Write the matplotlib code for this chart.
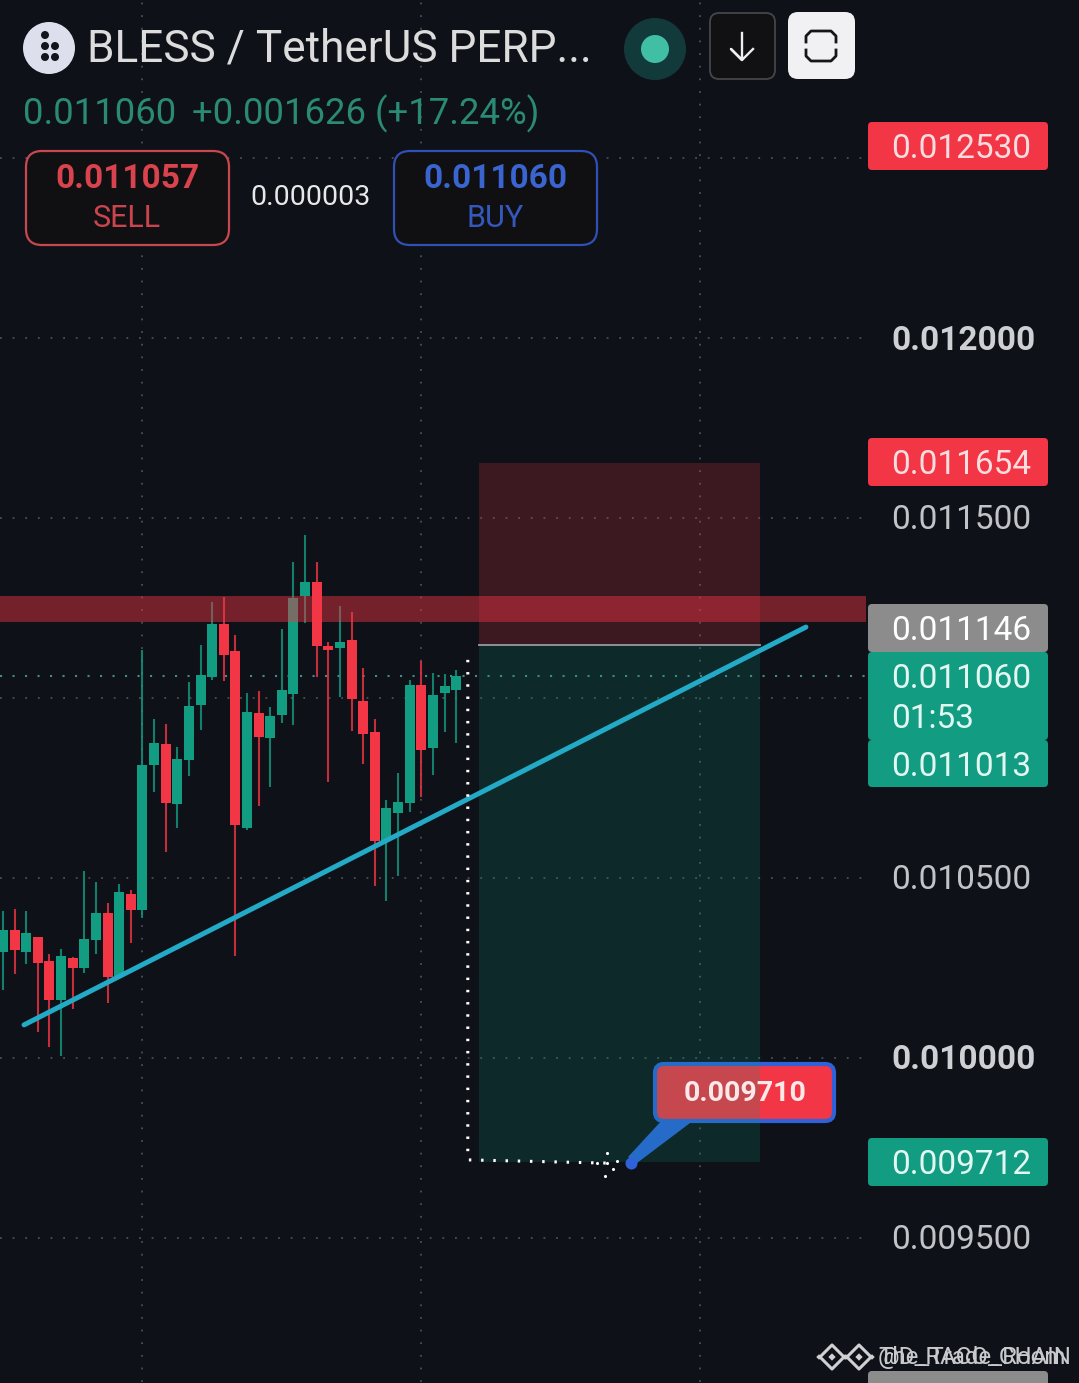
import numpy as np
import matplotlib
matplotlib.use('Agg')
import matplotlib.pyplot as plt
from matplotlib.patches import FancyBboxPatch, Rectangle, Circle, Polygon
from matplotlib.transforms import Affine2D

plt.rcParams['font.family'] = ['Roboto', 'DejaVu Sans']

# candles, prices in millionths of a USDT
opens = [10294, 10356, 10294, 10336, 10269, 10161, 10278, 10250, 10328, 10403,
         10228, 10456, 10411, 10814, 10872, 10706, 10828, 10981, 11058, 11206,
         11131, 10639, 10958, 10889, 10953, 11011, 11283, 11322, 11144, 11139,
         11161, 10992, 10906, 10603, 10681, 10708, 11036, 10861, 11014, 11022]
highs = [10408, 10414, 10408, 10336, 10289, 10303, 10281, 10519, 10489, 10431,
         10483, 10467, 11133, 10942, 10928, 10864, 11044, 11147, 11267, 11281,
         11175, 11014, 11019, 10975, 11192, 11378, 11453, 11378, 11156, 11256,
         11239, 11083, 10942, 10717, 10792, 11050, 11103, 11069, 11067, 11078]
lows = [10189, 10233, 10261, 10072, 10031, 10006, 10136, 10236, 10289, 10153,
        10228, 10319, 10389, 10739, 10572, 10639, 10783, 10911, 11050, 11047,
        10283, 10633, 10700, 10753, 10931, 10925, 11208, 11058, 10767, 11003,
        10908, 10817, 10478, 10436, 10506, 10683, 10725, 10786, 10906, 10875]
closes = [10356, 10300, 10347, 10264, 10161, 10283, 10250, 10331, 10403, 10225,
          10461, 10411, 10814, 10875, 10708, 10831, 10978, 11064, 11206, 11119,
          10647, 10961, 10892, 10950, 11022, 11278, 11322, 11144, 11133, 11156,
          10997, 10900, 10603, 10694, 10711, 11036, 10856, 11008, 11033, 11061]

grid_prices = [0.0125, 0.012, 0.0115, 0.011, 0.0105, 0.010, 0.0095]
grid_candles = [12, 36, 60]
axis_labels = ['0.012000', '0.011500', '0.010500', '0.010000', '0.009500']
axis_prices = [0.012, 0.0115, 0.0105, 0.010, 0.0095]
axis_bold = [True, False, False, True, False]

last_price = 0.011060
stop_price = 0.011654
entry_price = 0.011146
target_price = 0.009712
tool_start, tool_end = 41, 65.15
zone_low, zone_high = 0.011211, 0.011283
trend_x = [1.81, 69.1]
trend_y = [0.010092, 0.011197]
path_x = [40, 40, 52]
path_y = [0.011106, 0.009717, 0.009708]
tip_x = [51.1, 52, 52.5, 51.8, 52, 52.8]
tip_y = [0.009708, 0.009708, 0.009692, 0.009672, 0.009736, 0.009714]
pin_x, pin_y = 54.05, 0.009708

BG = '#0f1118'
GREEN = '#129c82'
RED = '#f23645'
BLUE = '#2f62d8'
GRID = '#4a4f58'

fig = plt.figure(figsize=(10.79, 13.83), dpi=100, facecolor=BG)
ax = fig.add_axes([0, 0, 1, 1], facecolor=BG)
ax.set_xlim(-0.258, 92.6)
ax.set_ylim(0.0090972, 0.0129389)
ax.axis('off')

# pixel coords, y going down, for the app chrome
px = Affine2D().scale(1, -1).translate(0, 1383)
right_end = 74.3  # where the price scale starts


def box(x0, y0, x1, y1, face, edge='none', lw=0, r=6, z=10):
    ax.add_patch(FancyBboxPatch((x0 + r, y0 + r), x1 - x0 - 2 * r, y1 - y0 - 2 * r,
                                boxstyle='round,pad=%d,rounding_size=%d' % (r, r),
                                fc=face, ec=edge, lw=lw, transform=px, zorder=z,
                                clip_on=False))


def label(x, y, s, size, color, weight='normal', ha='left', z=12):
    # +2.5: matplotlib centres on the text box, a bit high for digits
    ax.text(x, y + 2.5, s, transform=px, fontsize=size, color=color, fontweight=weight,
            ha=ha, va='center', zorder=z)


# grid
for p in grid_prices:
    ax.plot([-0.258, right_end], [p, p], color=GRID, lw=1.3, ls=(0, (1, 6)), zorder=1)
for c in grid_candles:
    ax.plot([c, c], [0.0091, 0.01294], color=GRID, lw=1.3, ls=(0, (1, 6)), zorder=1)
ax.plot([-0.258, right_end], [last_price, last_price], color='#3f8f84', lw=1.5,
        ls=(0, (1, 5)), zorder=1)

# candles
for i in range(len(opens)):
    col = GREEN if closes[i] >= opens[i] else RED
    ax.plot([i, i], [lows[i] * 1e-6, highs[i] * 1e-6], color=col, lw=1.5, alpha=0.8,
            solid_capstyle='butt', zorder=3)
    lo, hi = sorted([opens[i], closes[i]])
    ax.add_patch(Rectangle((i - 0.43, lo * 1e-6), 0.86, (hi - lo) * 1e-6, fc=col, ec='none', zorder=4))

# callout sits under the position tool, so it picks up the tint
ax.add_patch(Polygon([(664, 1118), (694, 1120), (637, 1163), (628, 1157)], fc=BLUE, ec='none',
                     transform=px, zorder=5))
box(655, 1064, 834, 1121, RED, BLUE, 3, r=9, z=5)

# position tool
ax.add_patch(Rectangle((tool_start, entry_price), tool_end - tool_start, stop_price - entry_price,
                       fc=RED, alpha=0.2, ec='none', zorder=6))
ax.add_patch(Rectangle((tool_start, target_price), tool_end - tool_start, entry_price - target_price,
                       fc='#089981', alpha=0.18, ec='none', zorder=6))
ax.plot([tool_start, tool_end], [entry_price, entry_price], color='#8d9196', lw=1.4, zorder=7)

# resistance band
ax.add_patch(Rectangle((-0.258, zone_low), right_end + 0.258, zone_high - zone_low, fc=RED,
                       alpha=0.45, ec='none', zorder=7))

# trend line
ax.plot(trend_x, trend_y, color='#22aac6', lw=3.6, solid_capstyle='round', zorder=8)

# dotted path
ax.plot(path_x, path_y, color='white', lw=2.2, ls=(0, (0.8, 3.2)), zorder=9)
ax.scatter(tip_x, tip_y, s=5, color='white', linewidths=0, zorder=9)
ax.scatter([pin_x], [pin_y], s=75, color=BLUE, linewidths=0, zorder=9)
label(745, 1091, '0.009710', 20.5, '#fbe9ea', weight='bold', ha='center')

# price scale
for s, p, b in zip(axis_labels, axis_prices, axis_bold):
    label(891, 1383 * (0.0129389 - p) / (0.0129389 - 0.0090972), s, 24,
          '#c2c3c6' if not b else '#cfd0d3', weight='bold' if b else 'normal')

box(868, 122, 1048, 170, RED, r=4)
label(891, 147, '0.012530', 24, '#fbdde0')
box(868, 438, 1048, 486, RED, r=4)
label(891, 463, '0.011654', 24, '#fbdde0')
box(868, 604, 1048, 652, '#8c8c8c', r=4)
label(891, 629, '0.011146', 24, 'white')
box(868, 652, 1048, 740, GREEN, r=4)
label(891, 677, '0.011060', 24, '#e3f7f2')
label(891, 716, '01:53', 24, '#e3f7f2')
box(868, 740, 1048, 787, GREEN, r=4)
label(891, 764, '0.011013', 24, '#e3f7f2')
box(868, 1138, 1048, 1186, GREEN, r=4)
label(891, 1163, '0.009712', 24, '#e3f7f2')
box(868, 1371, 1048, 1395, '#8c8c8c', r=4)

# header
ax.add_patch(Circle((49, 48), 26, fc='#dde0ec', ec='none', transform=px, zorder=10))
for dx, dy in [(-4, -13), (-4, -2), (6, -2), (-4, 9), (6, 9)]:
    ax.add_patch(Circle((49 + dx, 48 + dy), 4, fc='#14151c', ec='none', transform=px, zorder=11))
label(87, 47, 'BLESS / TetherUS PERP...', 31.8, '#dcdcdc')
label(23, 111, '0.011060', 26.3, '#2a8a75')
label(192, 111, '+0.001626 (+17.24%)', 26.3, '#2a8a75')

box(26, 151, 229, 245, '#100f12', '#c9484f', 1.6, r=16)
label(127, 176, '0.011057', 24, '#d9434d', weight='bold', ha='center')
label(127, 216, 'SELL', 22, '#c9444c', ha='center')
label(311, 195, '0.000003', 20.5, '#e8e8e8', ha='center')
box(394, 151, 597, 245, '#100f12', '#2f50b5', 1.6, r=16)
label(495, 176, '0.011060', 24, '#3a64cf', weight='bold', ha='center')
label(495, 216, 'BUY', 22, '#3558bd', ha='center')

ax.add_patch(Circle((655, 49), 31, fc='#133a3b', ec='none', transform=px, zorder=10))
ax.add_patch(Circle((655, 49), 14, fc='#40bfa5', ec='none', transform=px, zorder=11))
box(710, 13, 775, 79, '#111114', '#45464a', 1.3, r=9)
ax.plot([742, 742, 731, 742, 753], [33, 60, 49, 60, 49], color='#eeeeee', lw=1.7, transform=px, zorder=12)
box(788, 12, 855, 79, '#f1f1f3', r=10)
ax.plot([806, 806, 811, 831, 836, 836], [42, 36, 31, 31, 36, 42], color='#16161a', lw=2, transform=px, zorder=12)
ax.plot([806, 806, 811, 831, 836, 836], [50, 56, 61, 61, 56, 50], color='#16161a', lw=2, transform=px, zorder=12)

# watermark, two overlapping handles each with the small logo
for x in (832, 859):
    ax.scatter([x], [1357], s=150, marker='D', facecolor='none', edgecolor='#d0d0d3', linewidths=2.2,
               transform=px, zorder=12)
    ax.scatter([x, x - 13, x + 13], [1357, 1357, 1357], s=[14, 8, 8], marker='D', color='#d0d0d3',
               linewidths=0, transform=px, zorder=12)
label(878, 1355, 'The_Trade_Room', 17.3, '#c8c9cc')
label(878, 1355, '@D_RACO_CHAIN', 17.3, '#c8c9cc')

fig.savefig('out.png', dpi=100, facecolor=BG)
